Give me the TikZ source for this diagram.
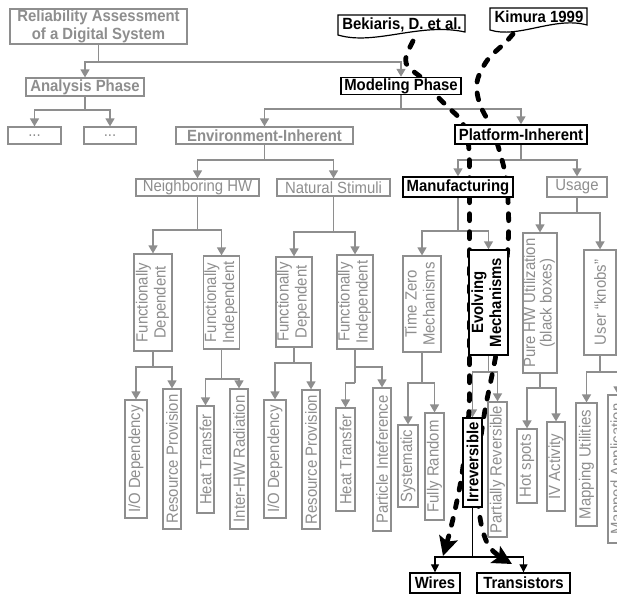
\documentclass[tikz,border=0pt]{standalone}
\usepackage{fontspec}
\setmainfont[FakeStretch=0.92]{Liberation Sans}
\usepackage{graphicx}
\usetikzlibrary{arrows.meta}
\definecolor{gcol}{RGB}{142,142,142}
\newcommand{\dgfont}{\fontsize{16.2pt}{18pt}\selectfont}
\newcommand{\vtxt}[1]{\rotatebox{90}{#1}}
\newcommand{\vtwo}[2]{\rotatebox{90}{\begin{tabular}{@{}c@{}}#1\\#2\end{tabular}}}
% parent -> horizontal bus at height #4 -> arrows down to each child
\newcommand{\fork}[5]{%
  \draw[#1] (#3.south) -- (#3.south |- 0,#4);
  \foreach \kid in {#5} {\draw[#2] (#3.south |- 0,#4) -| (\kid.north);}
}
\pgfdeclarelayer{wirelayer}
\pgfdeclarelayer{citelayer}
\pgfsetlayers{wirelayer,citelayer,main}
\begin{document}
\begin{tikzpicture}[x=1pt,y=-1pt,
  gbox/.style={draw=gcol, line width=1.2pt, fill=white, text=gcol, inner sep=0pt, font=\dgfont},
  gbold/.style={gbox, font=\dgfont\bfseries},
  kbox/.style={draw=black, line width=1.4pt, fill=white, text=black, inner sep=0pt, font=\dgfont\bfseries},
  gwire/.style={draw=gcol, line width=1.4pt},
  garrow/.style={gwire, -{Triangle[length=8pt,width=9pt]}},
  kwire/.style={draw=black, line width=1.3pt},
  karrow/.style={kwire, -{Triangle[length=8pt,width=8pt]}},
  docline/.style={draw=black, line width=1.2pt, fill=white},
  citecurve/.style={draw=black, line width=4.8pt, line cap=round,
    dash pattern=on 7pt off 11pt, -{Stealth[length=19pt,width=19pt,inset=4pt]}}]
\useasboundingbox (0,0) rectangle (617,594);
\clip (0,0) rectangle (617,594);

% ---- upper levels ----
\node[gbold, align=center, minimum width=177pt, minimum height=35pt,
      font=\fontsize{16.2pt}{18pt}\selectfont\bfseries] (root) at (98.5,26.5)
      {Reliability Assessment\\of a Digital System};
\node[gbold, minimum width=118pt, minimum height=18pt] (ana) at (85,87) {Analysis Phase};
\node[gbox, minimum width=53pt, minimum height=17pt] (dotsa) at (34.5,135.5) {...};
\node[gbox, minimum width=52pt, minimum height=17pt] (dotsb) at (110,135.5) {...};
\node[kbox, minimum width=120pt, minimum height=17pt] (model) at (401,86) {Modeling Phase};
\node[gbold, minimum width=177pt, minimum height=17pt] (env) at (264.5,135.5) {Environment-Inherent};
\node[kbox, minimum width=132pt, minimum height=19pt] (plat) at (521,134.5) {Platform-Inherent};
\node[gbox, minimum width=123pt, minimum height=17pt] (nhw) at (197.5,187.5) {Neighboring HW};
\node[gbox, minimum width=113pt, minimum height=17pt] (nat) at (333.5,187.5) {Natural Stimuli};
\node[kbox, minimum width=110pt, minimum height=20pt] (manu) at (458,187) {Manufacturing};
\node[gbox, minimum width=60pt, minimum height=20pt] (usage) at (577,187) {Usage};

% ---- vertical category boxes ----
\node[gbox, minimum width=38pt, minimum height=97pt] (fda) at (153,302.5) {\vtwo{Functionally}{Dependent}};
\node[gbox, minimum width=35pt, minimum height=93pt] (fia) at (221.5,302.5) {\vtwo{Functionally}{Independent}};
\node[gbox, minimum width=34pt, minimum height=90pt] (fdb) at (294,302) {\vtwo{Functionally}{Dependent}};
\node[gbox, minimum width=36pt, minimum height=94pt] (fib) at (355,302) {\vtwo{Functionally}{Independent}};
\node[gbox, minimum width=38pt, minimum height=96pt] (tz) at (422,304) {\vtwo{Time Zero}{Mechanisms}};
\node[kbox, minimum width=39pt, minimum height=105pt] (evo) at (488.5,302.5) {\vtwo{Evolving}{Mechanisms}};
\node[gbox, minimum width=34pt, minimum height=140pt, font=\fontsize{16.2pt}{16.5pt}\selectfont] (pure) at (540,303)
      {\vtwo{Pure HW Utilization}{(black boxes)}};
\node[gbox, minimum width=32pt, minimum height=105pt] (user) at (600,302.5) {\vtxt{User “knobs”}};

% ---- leaves ----
\node[gbox, minimum width=22pt, minimum height=118pt] (ioa) at (136,459) {\vtxt{I/O Dependency}};
\node[gbox, minimum width=18pt, minimum height=140pt] (rpa) at (172,459) {\vtxt{Resource Provision}};
\node[gbox, minimum width=17pt, minimum height=107pt] (hta) at (205.5,459.5) {\vtxt{Heat Transfer}};
\node[gbox, minimum width=18pt, minimum height=140pt] (ihr) at (239,459) {\vtxt{Inter-HW Radiation}};
\node[gbox, minimum width=22pt, minimum height=118pt] (iob) at (275,459) {\vtxt{I/O Dependency}};
\node[gbox, minimum width=18pt, minimum height=139pt] (rpb) at (311,459.5) {\vtxt{Resource Provision}};
\node[gbox, minimum width=19pt, minimum height=103pt] (htb) at (345.5,459.5) {\vtxt{Heat Transfer}};
\node[gbox, minimum width=18pt, minimum height=143pt] (pint) at (382,459.5) {\vtxt{Particle Inteference}};
\node[gbox, minimum width=20pt, minimum height=82pt] (sys) at (408,466) {\vtxt{Systematic}};
\node[gbox, minimum width=19pt, minimum height=107pt] (frand) at (434.5,466.5) {\vtxt{Fully Random}};
\node[kbox, minimum width=19pt, minimum height=89pt] (irr) at (472.5,462.5) {\vtxt{Irreversible}};
\node[gbox, minimum width=19pt, minimum height=135pt] (prev) at (497.5,469.5) {\vtxt{Partially Reversible}};
\node[gbox, minimum width=20pt, minimum height=74pt] (hot) at (527,466) {\vtxt{Hot spots}};
\node[gbox, minimum width=18pt, minimum height=89pt] (iva) at (556,466.5) {\vtxt{IV Activity}};
\node[gbox, minimum width=21pt, minimum height=123pt] (mapu) at (586.5,464.5) {\vtxt{Mapping Utilities}};
\node[gbox, minimum width=20pt, minimum height=148pt] (mapa) at (618,469) {\vtxt{Mapped Application}};
\node[kbox, minimum width=50pt, minimum height=20pt] (wires) at (435,583) {Wires};
\node[kbox, minimum width=93pt, minimum height=20pt] (trans) at (523.5,583) {Transistors};

% ---- literature sources (document shapes) ----
\draw[docline] (338,15) -- (465,15) -- (465,32) .. controls (420,22) and (375,46) .. (338,35) -- cycle;
\node[font=\dgfont\bfseries, inner sep=0pt] (bek) at (402,24.5) {Bekiaris, D. et al.};
\draw[docline] (490,8) -- (587,8) -- (587,25) .. controls (555,16) and (518,39) .. (490,30) -- cycle;
\node[font=\dgfont\bfseries, inner sep=0pt] (kim) at (539,16.5) {Kimura 1999};
\coordinate (bekfoot) at (413,41);
\coordinate (kimfoot) at (513,34);
\coordinate (wiretip) at (443,556);
\coordinate (transtip) at (512,564);

% ---- tree connectors ----
\begin{pgfonlayer}{wirelayer}
\begin{scope}
\clip (0,0) rectangle (617,594);
\fork{gwire}{garrow}{root}{62}{ana,model}
\fork{gwire}{garrow}{ana}{110}{dotsa,dotsb}
\fork{gwire}{garrow}{model}{109}{env,plat}
\fork{gwire}{garrow}{env}{160}{nhw,nat}
\fork{gwire}{garrow}{plat}{160}{manu,usage}
\fork{gwire}{garrow}{nhw}{230}{fda,fia}
\fork{gwire}{garrow}{nat}{232}{fdb,fib}
\fork{gwire}{garrow}{manu}{231}{tz,evo}
\fork{gwire}{garrow}{usage}{213}{pure,user}
\fork{gwire}{garrow}{fda}{367}{ioa,rpa}
\fork{gwire}{garrow}{fia}{379}{hta,ihr}
\fork{gwire}{garrow}{fdb}{363}{iob,rpb}
\fork{gwire}{garrow}{fib}{383}{htb}
\draw[garrow] (fib.south |- 0,367) -| (pint.north);
\fork{gwire}{garrow}{tz}{383}{sys,frand}
\fork{gwire}{garrow}{evo}{372}{irr,prev}
\fork{gwire}{garrow}{pure}{388}{hot,iva}
\fork{gwire}{garrow}{user}{372}{mapu,mapa}
\fork{kwire}{karrow}{irr}{557}{wires,trans}
\end{scope}
\end{pgfonlayer}

% ---- citation paths ----
\begin{pgfonlayer}{citelayer}
\draw[citecurve] plot[smooth, tension=0.6] coordinates {
  (bekfoot) (407,54) (406,63) (413,71) (424,80) (437,96) (449,108) (460,119)
  (466,132) (469,150) (469.5,180) (469.5,240) (469.5,360) (469,410) (465,450)
  (461,480) (455,510) (449,535) (wiretip)};
\draw[citecurve] plot[smooth, tension=0.6] coordinates {
  (kimfoot) (505,43) (495,52) (486,62) (478,78) (477,92) (481,107) (488,121)
  (496,140) (502,160) (506,178) (508,200) (508,245) (500,330) (495,360)
  (490,385) (485,410) (480,445) (478,480) (479,510) (484,535) (493,551) (transtip)};
\end{pgfonlayer}
\end{tikzpicture}
\end{document}
